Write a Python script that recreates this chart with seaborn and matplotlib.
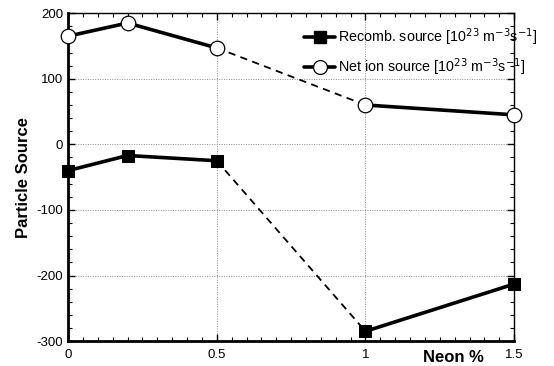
import matplotlib
matplotlib.use("Agg")
import matplotlib.pyplot as plt
import seaborn as sns
import pandas as pd
import numpy as np
from matplotlib.ticker import MultipleLocator
from matplotlib.lines import Line2D

neon = [0.0, 0.2, 0.5, 1.0, 1.5]
recomb = [-40, -17, -25, -285, -213]
net_ion = [165, 185, 147, 60, 45]

sns.set_theme(style="ticks")
plt.rcParams['font.family'] = ['Liberation Sans', 'DejaVu Sans']
plt.rcParams['axes.unicode_minus'] = False
plt.rcParams['text.color'] = 'black'
plt.rcParams['axes.labelcolor'] = 'black'

fig, ax = plt.subplots(figsize=(5.54, 3.66), dpi=100)
fig.subplots_adjust(left=0.123, right=0.928, top=0.964, bottom=0.068)

rows = []
for name, vals in [("Recomb", recomb), ("Net", net_ion)]:
    for i, (x, y) in enumerate(zip(neon, vals)):
        rows.append(dict(series=name, x=x, y=y, idx=i))
df = pd.DataFrame(rows)

solid = []
dashed = []
for name in ["Recomb", "Net"]:
    d = df[df.series == name]
    a = d[d.idx <= 2].assign(unit=name + "a")
    b = d[d.idx >= 3].assign(unit=name + "b")
    c = d[(d.idx == 2) | (d.idx == 3)].assign(unit=name + "c")
    solid += [a, b]
    dashed.append(c)
solid = pd.concat(solid)
dashed = pd.concat(dashed)

for yv in [100, 0, -100, -200]:
    ax.axhline(yv, color="0.55", lw=0.7, ls=(0, (1, 1.5)), zorder=0)
for xv in [0.5, 1.0]:
    ax.axvline(xv, color="0.55", lw=0.7, ls=(0, (1, 1.5)), zorder=0)

sns.lineplot(data=dashed, x="x", y="y", units="unit", estimator=None, color="black",
             lw=1.3, ls=(0, (4, 3)), ax=ax, legend=False, sort=False)
sns.lineplot(data=solid, x="x", y="y", units="unit", estimator=None, color="black",
             lw=2.6, ax=ax, legend=False, sort=False)

rd = df[df.series == "Recomb"]
nd = df[df.series == "Net"]
sns.scatterplot(data=rd, x="x", y="y", marker="s", s=85, color="black",
                edgecolor="black", ax=ax, legend=False, zorder=5, clip_on=False)
sns.scatterplot(data=nd, x="x", y="y", marker="o", s=110, facecolor="white",
                edgecolor="black", linewidth=0.9, ax=ax, legend=False, zorder=5, clip_on=False)

ax.set_xlim(0, 1.5)
ax.set_ylim(-300, 200)
ax.set_xticks([0, 0.5, 1, 1.5])
ax.set_xticklabels(["0", "0.5", "1", "1.5"])
ax.set_yticks([-300, -200, -100, 0, 100, 200])
ax.xaxis.set_minor_locator(MultipleLocator(0.05))
ax.yaxis.set_minor_locator(MultipleLocator(20))
ax.tick_params(which="both", direction="in", top=True, right=True, labelsize=9.5,
               color="black", labelcolor="black")
ax.tick_params(which="major", length=5, width=1)
ax.tick_params(which="minor", length=3, width=0.8)
ax.tick_params(axis="x", pad=6)
for sp in ax.spines.values():
    sp.set_color("black")
ax.spines["left"].set_linewidth(2)
ax.spines["bottom"].set_linewidth(2)
ax.spines["top"].set_linewidth(1)
ax.spines["right"].set_linewidth(1)

ax.set_xlabel("")
ax.set_ylabel("Particle Source", fontsize=12, fontweight="bold", labelpad=4, color="black")
ax.text(1.295, -325, "Neon %", fontsize=12, fontweight="bold", ha="center", va="center",
        clip_on=False, color="black")

handles = [
    Line2D([], [], color="black", lw=2.6, marker="s", markersize=8, markerfacecolor="black"),
    Line2D([], [], color="black", lw=2.6, marker="o", markersize=10, markerfacecolor="white",
           markeredgewidth=0.9),
]
labels = [r"Recomb. source [10$^{23}$ m$^{-3}$s$^{-1}$]",
          r"Net ion source [10$^{23}$ m$^{-3}$s$^{-1}$]"]
leg = ax.legend(handles, labels, loc="upper right", frameon=False, fontsize=10.3,
          handlelength=2.2, handletextpad=0.2, borderaxespad=0.3, labelspacing=0.6,
          bbox_to_anchor=(1.075, 0.99))
for t in leg.get_texts():
    t.set_color("black")

fig.savefig("out.png", dpi=100, facecolor="white")
